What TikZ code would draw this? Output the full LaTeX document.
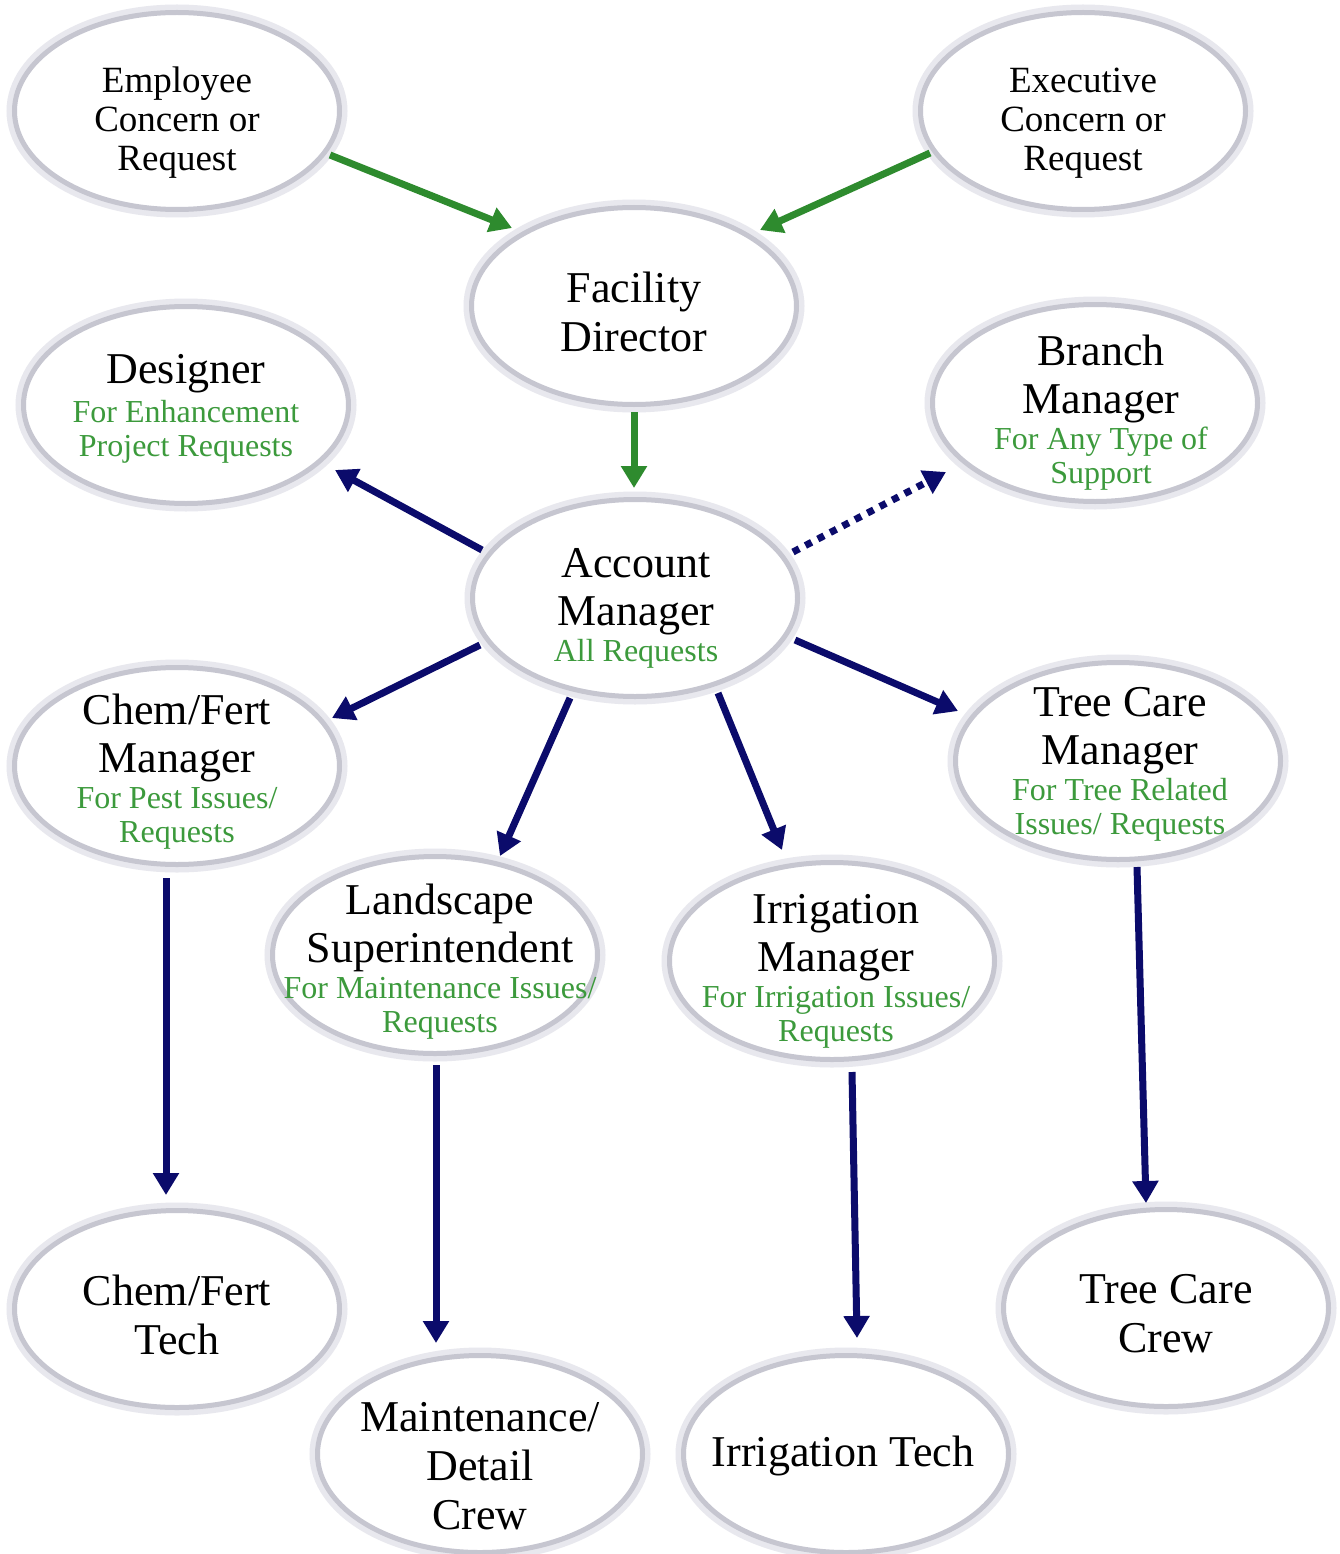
\documentclass[tikz,border=0pt]{standalone}
\usepackage{fontspec}
\setmainfont{Liberation Serif}
\usetikzlibrary{shapes.geometric,arrows.meta,calc}
\definecolor{grnA}{HTML}{2E8B2E}
\definecolor{grnT}{HTML}{3C9A3C}
\definecolor{navyA}{HTML}{0B0B6B}
\definecolor{bordc}{HTML}{C6C6D0}
\definecolor{glowc}{HTML}{E8E8EE}
\newcommand{\TT}[1]{{\fontsize{44}{49}\selectfont #1}}
\newcommand{\GG}[1]{{\color{grnT}#1}}
\newcommand{\NoLS}{\setlength{\lineskiplimit}{-60pt}}
\begin{document}
\begin{tikzpicture}[x=1pt,y=-1pt,
  oval/.style={ellipse, minimum width=325pt, minimum height=197pt, inner sep=0pt,
    fill=white, draw=bordc, line width=5pt,
    preaction={draw=glowc, line width=16pt}},
  txt/.style={align=center, inner sep=0pt, font=\fontsize{32}{34}\selectfont\NoLS},
  txtS/.style={align=center, inner sep=0pt, font=\fontsize{37}{39}\selectfont\NoLS},
  txtB/.style={align=center, inner sep=0pt, font=\fontsize{44}{49}\selectfont\NoLS},
  garr/.style={draw=grnA, line width=7pt, -{Triangle[length=22pt,width=25pt]}},
  narr/.style={draw=navyA, line width=7pt, -{Triangle[length=22pt,width=25pt]}},
  darr/.style={draw=navyA, line width=7pt, dash pattern=on 7pt off 7pt, -{Triangle[length=22pt,width=25pt]}}
]
\path[use as bounding box, fill=white] (0,0) rectangle (1339,1554);

% ellipses
\node[oval] (emp) at (177,111) {};
\node[oval] (exe) at (1083,111) {};
\node[oval] (fac) at (634,306) {};
\node[oval] (des) at (186,405) {};
\node[oval] (bra) at (1095,403) {};
\node[oval] (acc) at (635,598) {};
\node[oval] (chm) at (177,766) {};
\node[oval] (tcm) at (1118,761) {};
\node[oval] (lan) at (435,955) {};
\node[oval] (irm) at (832,961) {};
\node[oval] (cft) at (177,1309) {};
\node[oval] (tcc) at (1166,1308) {};
\node[oval] (mdc) at (480,1454) {};
\node[oval] (itc) at (846,1454) {};

% texts
\node[txtS] (empT) at ($(emp)+(0,12)$) {Employee\\Concern or\\Request};
\node[txtS] (exeT) at ($(exe)+(0,12)$) {Executive\\Concern or\\Request};
\node[txtB] (facT) at ($(fac)+(0,6)$) {Facility\\Director};
\node[txt] (desT) at ($(des)+(0,4)$) {\TT{Designer}\\[5pt]\GG{For Enhancement}\\\GG{Project Requests}};
\node[txt] (braT) at ($(bra)+(6,10)$) {\TT{Branch}\\[14pt]\TT{Manager}\\[2pt]\GG{For Any Type of}\\\GG{Support}};
\node[txt] (accT) at ($(acc)+(1,10)$) {\TT{Account}\\[14pt]\TT{Manager}\\[2pt]\GG{All Requests}};
\node[txt] (chmT) at ($(chm)+(0,6)$) {\TT{Chem/Fert}\\[14pt]\TT{Manager}\\[2pt]\GG{For Pest Issues/}\\\GG{Requests}};
\node[txt] (tcmT) at ($(tcm)+(2,3)$) {\TT{Tree Care}\\[14pt]\TT{Manager}\\[2pt]\GG{For Tree Related}\\\GG{Issues/ Requests}};
\node[txt] (lanT) at ($(lan)+(5,7)$) {\TT{Landscape}\\[14pt]\TT{Superintendent}\\[2pt]\GG{For Maintenance Issues/}\\\GG{Requests}};
\node[txt] (irmT) at ($(irm)+(4,10)$) {\TT{Irrigation}\\[14pt]\TT{Manager}\\[2pt]\GG{For Irrigation Issues/}\\\GG{Requests}};
\node[txtB] (cftT) at ($(cft)+(0,6)$) {Chem/Fert\\Tech};
\node[txtB] (tccT) at ($(tcc)+(0,6)$) {Tree Care\\Crew};
\node[txtB] (mdcT) at ($(mdc)+(0,12)$) {Maintenance/\\Detail\\Crew};
\node[txtB] (itcT) at ($(itc)+(-3,2)$) {Irrigation Tech};

% green arrows
\draw[garr] ($(emp)+(153,44)$) -- ($(fac)+(-122,-78)$);
\draw[garr] ($(exe)+(-153,42)$) -- ($(fac)+(126,-76)$);
\draw[garr] ($(fac)+(0,106)$) -- ($(acc)+(-1,-110)$);

% navy arrows
\draw[narr] ($(acc)+(-153,-48)$) -- ($(des)+(149,65)$);
\draw[darr] ($(acc)+(158,-46)$) -- ($(bra)+(-149,69)$);
\draw[narr] ($(acc)+(-155,47)$) -- ($(chm)+(155,-48)$);
\draw[narr] ($(acc)+(-65,100)$) -- ($(lan)+(65,-99)$);
\draw[narr] ($(acc)+(83,95)$) -- ($(irm)+(-50,-111)$);
\draw[narr] ($(acc)+(160,42)$) -- ($(tcm)+(-160,-50)$);
\draw[narr] ($(chm)+(-11,112)$) -- ($(cft)+(-11,-114)$);
\draw[narr] ($(lan)+(1,110)$) -- ($(mdc)+(-44,-111)$);
\draw[narr] ($(irm)+(20,111)$) -- ($(itc)+(11,-116)$);
\draw[narr] ($(tcm)+(19,106)$) -- ($(tcc)+(-20,-105)$);
\end{tikzpicture}
\end{document}
